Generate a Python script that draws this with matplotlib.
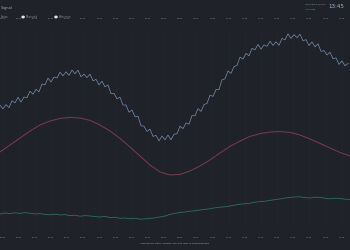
import matplotlib
matplotlib.use("Agg")
import matplotlib.pyplot as plt

# ---- data ----
blue_x = list(range(0, 349, 3))
blue_y = [61.4, 59.6, 61.7, 60.2, 63.6, 62.6, 65.3, 63.0, 65.5, 65.2,
          68.4, 66.9, 69.3, 68.1, 72.0, 71.6, 74.9, 73.0, 75.5, 75.0,
          77.9, 76.1, 78.1, 76.3, 79.0, 77.1, 78.9, 75.6, 76.9, 75.2,
          76.9, 73.6, 74.3, 71.6, 73.4, 70.6, 71.5, 67.2, 67.3, 64.6,
          65.4, 61.5, 61.5, 57.9, 59.0, 55.6, 55.9, 51.1, 50.9, 48.3,
          49.4, 45.8, 46.3, 43.6, 46.0, 44.1, 46.5, 44.1, 46.9, 47.1,
          50.9, 49.7, 52.5, 51.9, 56.2, 56.1, 59.7, 58.3, 61.7, 62.3,
          66.4, 65.8, 69.2, 69.2, 74.1, 74.6, 78.5, 77.3, 80.7, 81.3,
          85.4, 84.5, 87.3, 86.1, 89.8, 89.1, 91.8, 89.4, 91.6, 90.8,
          93.4, 91.3, 93.1, 91.3, 94.8, 94.1, 97.1, 94.8, 96.7, 95.2,
          96.9, 93.6, 94.2, 91.2, 93.1, 90.6, 92.1, 88.3, 88.7, 86.5,
          87.9, 84.6, 85.1, 81.8, 83.6, 81.1, 82.3]

red_x = list(range(0, 351, 10))
red_y = [38.0, 41.5, 45.0, 48.5, 51.5, 53.5, 54.8, 55.3, 55.0, 53.8,
         51.5, 48.5, 44.8, 40.5, 36.0, 31.5, 28.0, 26.5, 26.8, 28.5,
         31.0, 34.0, 37.5, 40.8, 43.5, 45.8, 47.2, 48.0, 48.2, 47.8,
         46.5, 44.5, 42.3, 40.0, 37.8, 36.0]

green_x = list(range(0, 351, 5))
green_y = [7.0, 7.5, 7.2, 7.6, 7.3, 7.7, 7.4, 7.0, 7.2, 6.8,
           6.6, 6.9, 6.5, 6.7, 6.2, 6.4, 5.9, 6.2, 6.0, 5.7,
           5.5, 5.8, 5.2, 5.4, 4.8, 5.0, 4.6, 4.9, 4.4, 4.6,
           4.8, 5.1, 5.5, 6.0, 6.8, 7.3, 7.8, 8.0, 8.4, 8.6,
           9.0, 9.3, 9.6, 10.1, 10.4, 10.6, 11.0, 11.5, 11.9, 12.1,
           12.4, 12.9, 13.2, 13.4, 13.8, 14.2, 14.5, 15.0, 15.3, 15.5,
           15.6, 15.2, 15.0, 15.4, 15.3, 14.9, 14.6, 14.9, 14.8, 14.4,
           14.2]

tick_pos = [2.5 + 16.15 * k for k in range(22)]
tick_labels = ["13:00", "13:05", "13:10", "13:15", "13:20", "13:25", "13:30",
               "13:35", "13:40", "13:45", "13:50", "13:55", "14:00", "14:05",
               "14:10", "14:15", "14:20", "14:25", "14:30", "14:35", "14:40",
               "14:45"]

BG = "#1f2228"
fig = plt.figure(figsize=(3.5, 2.5), dpi=100, facecolor=BG)
ax = fig.add_axes([0, 0.088, 1, 0.80], facecolor=BG)

ax.plot(red_x, red_y, color="#7a3d50", lw=0.7)
ax.plot(green_x, green_y, color="#2f6e5c", lw=0.6)
ax.plot(blue_x, blue_y, color="#7890b2", lw=0.5)

ax.set_xlim(0, 350)
ax.set_ylim(0, 100)
ax.set_xticks(tick_pos)
ax.set_xticklabels(tick_labels)
ax.set_yticks([])
ax.tick_params(axis="x", labeltop=True, top=False, bottom=False,
               labelsize=1.6, labelcolor="#8c929b", pad=3)
ax.grid(axis="x", color="#25282e", lw=0.4)
for s in ax.spines.values():
    s.set_visible(False)

# header texts
fig.text(0.003, 0.968, "Signal", fontsize=2.8, color="#9aa0a8", va="center")
fig.text(0.003, 0.932, "Series", fontsize=1.8, color="#8c929b", va="center")
fig.patches.append(plt.Circle((0.066, 0.932), 0.003, transform=fig.transFigure,
                              color="#dfe4ea"))
fig.text(0.074, 0.932, "Measured", fontsize=1.8, color="#8c929b", va="center")
fig.patches.append(plt.Circle((0.160, 0.932), 0.003, transform=fig.transFigure,
                              color="#dfe4ea"))
fig.text(0.168, 0.932, "Reference", fontsize=1.8, color="#8c929b", va="center")

fig.text(0.872, 0.982, "Simulated sensor", fontsize=1.7, color="#8a96a8", va="center")
fig.text(0.872, 0.964, "live data", fontsize=1.7, color="#8a96a8", va="center")
fig.text(0.937, 0.974, "13:45", fontsize=4.0, color="#9ab8dc", va="center")

fig.text(0.5, 0.028, "Simulated data, values are not real measurements",
         fontsize=1.75, color="#e0507f", fontweight="bold",
         ha="center", va="center")

fig.savefig("out.png", dpi=100, facecolor=BG)
